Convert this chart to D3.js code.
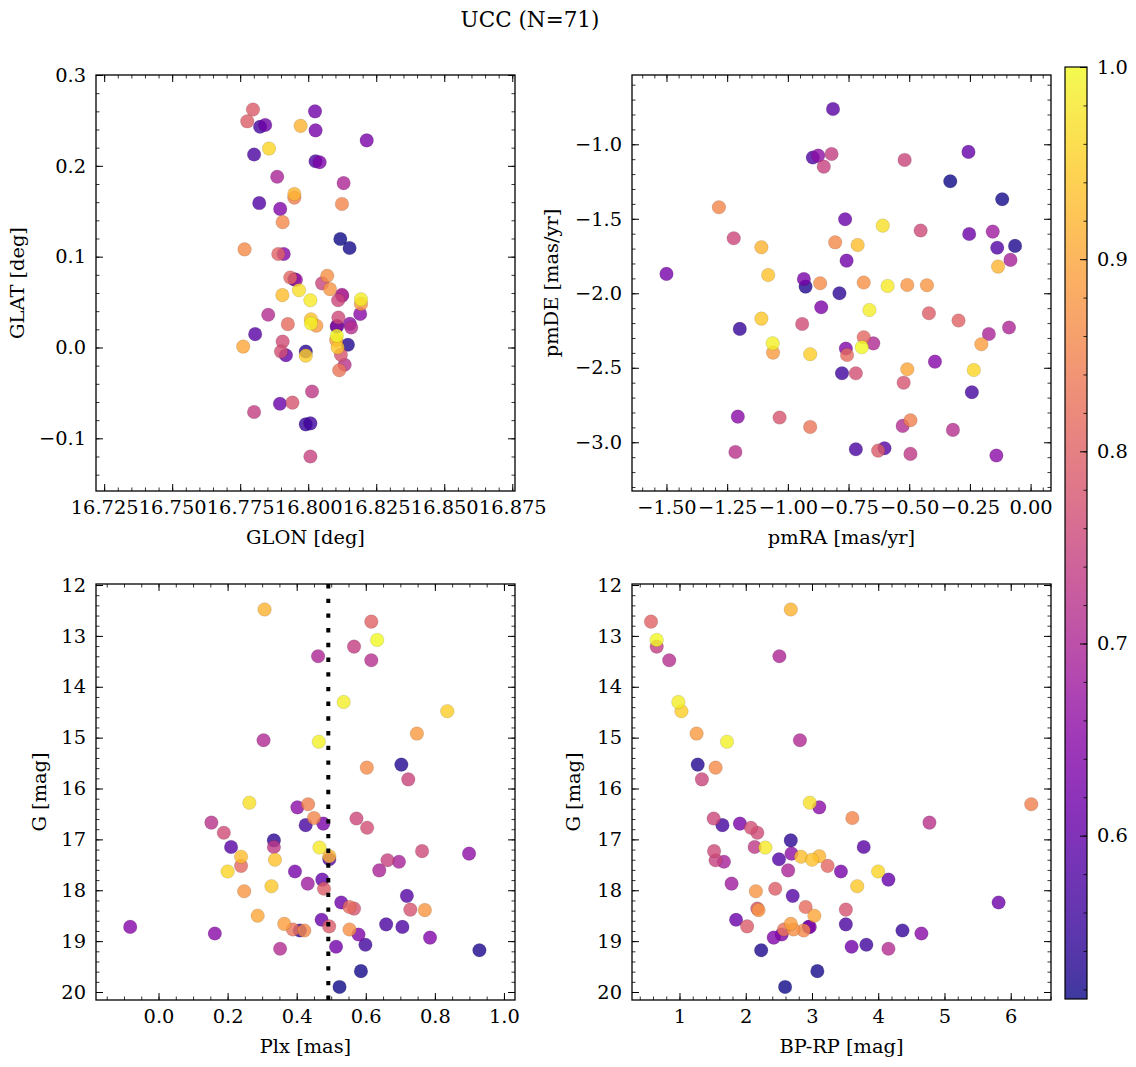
<!DOCTYPE html>
<html><head><meta charset="utf-8">
<script src="https://cdn.jsdelivr.net/npm/d3@7"></script>
<style>body{margin:0;background:#fff}</style>
</head><body><div id="c"></div>
<script>
// ---- data (one entry per star, ordered by membership probability) ----
const prob = [0.515,0.52,0.525,0.53,0.54,0.55,0.56,0.565,0.57,0.575,0.58,0.585,0.59,
  0.605,0.61,0.615,0.62,0.625,0.63,0.635,0.64,0.645,0.65,0.655,0.66,
  0.68,0.69,0.695,0.70,0.705,0.71,0.715,0.72,0.73,
  0.74,0.745,0.75,0.755,0.76,0.765,0.77,0.775,0.78,
  0.79,0.795,0.80,0.81,0.815,0.83,
  0.85,0.855,0.86,0.865,0.87,0.875,0.88,0.885,0.89,0.90,
  0.915,0.92,0.93,0.935,0.94,0.95,
  0.96,0.97,0.98,0.985,0.99,1.0];
const glon = [16.8118,16.8152,16.8105,16.8146,16.7991,16.7991,16.8008,16.7823,16.7801,16.8027,16.782,16.7949,16.7805,
  16.7918,16.7896,16.7842,16.8025,16.8027,16.8215,16.8042,16.7897,16.791,16.8191,16.8153,16.8106,
  16.7955,16.8125,16.7886,16.813,16.8124,16.7853,16.8158,16.8134,16.8014,
  16.7801,16.8008,16.8051,16.811,16.8111,16.7906,16.79,16.812,16.7942,
  16.7797,16.7776,16.789,16.7934,16.7925,16.8114,
  16.7949,16.8124,16.7906,16.7766,16.807,16.808,16.8194,16.803,16.8103,16.7761,
  16.7972,16.7949,16.7905,16.801,16.8108,16.7991,
  16.7856,16.7966,16.8008,16.8194,16.801,16.8105];
const glat = [0.1195,0.1096,0.023,0.003,-0.0044,-0.0846,-0.0835,0.243,0.2125,0.205,0.159,0.075,0.0147,
  -0.0085,-0.062,0.245,0.260,0.239,0.228,0.204,0.1526,0.103,0.0368,0.026,0.0235,
  0.0745,0.057,0.188,0.181,0.058,0.036,0.022,-0.019,-0.0485,
  -0.071,-0.120,0.0706,0.052,0.033,0.0066,-0.0044,-0.008,-0.0607,
  0.262,0.249,0.103,0.077,0.0257,-0.025,
  0.165,0.158,0.138,0.108,0.079,0.0643,0.048,0.024,0.008,0.001,
  0.244,0.169,0.0577,0.031,0.0,-0.009,
  0.219,0.063,0.052,0.053,0.0265,0.0129];
const pmra = [-0.331,-0.117,-0.064,-0.927,-0.7875,-1.198,-0.777,-0.242,-0.720,-0.897,-0.1375,-0.602,-0.814,
  -0.256,-0.764,-0.253,-0.758,-1.50,-0.934,-0.8625,-0.761,-0.394,-1.206,-0.141,-0.875,
  -0.156,-0.083,-0.172,-0.089,-0.648,-0.527,-0.320,-1.216,-0.495,
  -0.820,-0.852,-0.519,-1.223,-0.453,-0.941,-0.720,-0.523,-1.034,
  -0.628,-0.419,-0.297,-0.6875,-0.756,-0.908,
  -0.495,-1.284,-0.805,-0.867,-0.6875,-0.508,-0.427,-1.061,-0.203,-0.508,
  -1.109,-0.134,-0.7125,-1.081,-1.109,-0.908,
  -0.234,-0.609,-0.589,-0.664,-1.0625,-0.695];
const pmde = [-1.248,-1.369,-1.682,-1.955,-2.0,-2.239,-2.537,-2.664,-3.047,-1.089,-1.694,-3.040,-0.763,
  -1.051,-1.503,-1.602,-1.781,-1.870,-1.904,-2.094,-2.371,-2.459,-2.828,-3.089,-1.076,
  -1.586,-1.776,-2.273,-2.230,-2.336,-2.890,-2.917,-3.065,-3.078,
  -1.065,-1.150,-1.105,-1.631,-1.579,-2.206,-2.537,-2.600,-2.834,
  -3.056,-2.134,-2.183,-2.295,-2.414,-2.897,
  -2.852,-1.423,-1.658,-1.933,-1.928,-1.944,-1.946,-2.398,-2.342,-2.510,
  -1.691,-1.821,-1.676,-1.877,-2.170,-2.409,
  -2.515,-1.546,-1.951,-2.112,-2.336,-2.362];
const plx = [0.524,0.586,0.929,0.703,0.334,0.409,0.599,0.426,0.659,0.706,0.4945,0.719,0.210,
  0.474,0.472,0.529,0.514,0.395,0.477,0.579,0.786,-0.082,0.163,0.402,0.899,
  0.432,0.696,0.639,0.462,0.304,0.352,0.616,0.153,0.334,
  0.566,0.663,0.723,0.573,0.763,0.189,0.604,0.729,0.566,
  0.494,0.479,0.616,0.239,0.553,0.389,
  0.433,0.450,0.422,0.603,0.553,0.248,0.771,0.748,0.364,0.287,
  0.307,0.4945,0.239,0.337,0.327,0.836,
  0.200,0.263,0.466,0.536,0.464,0.633];
const gmag = [19.90,19.59,19.18,15.53,17.02,18.79,19.07,16.72,18.67,18.72,17.39,18.11,17.15,
  17.79,18.58,18.24,19.11,17.63,16.69,18.87,18.93,18.72,18.85,16.37,17.28,
  17.87,17.44,17.61,13.40,15.05,19.15,13.48,16.67,17.15,
  13.21,17.41,15.82,16.59,17.23,16.87,16.77,18.38,18.36,
  18.71,17.97,12.72,17.52,18.33,18.77,
  16.31,16.58,18.79,15.59,18.77,18.02,18.39,14.92,18.66,18.50,
  12.48,17.33,17.34,17.40,17.92,14.48,
  17.63,16.28,17.16,14.30,15.08,13.08];
const bprp = [2.594,3.081,2.233,1.275,2.680,4.366,3.821,1.648,3.511,2.95,2.502,2.709,3.781,
  4.154,1.854,5.817,3.598,3.437,1.912,2.542,2.422,2.967,4.652,3.110,2.691,
  1.786,1.671,2.640,2.508,2.818,4.154,0.845,4.773,2.135,
  0.656,1.545,1.338,1.516,1.522,2.175,2.078,3.511,2.175,
  2.021,2.445,0.570,3.236,2.904,2.577,
  6.310,3.609,2.875,1.545,2.72,2.153,2.193,1.258,2.680,3.036,
  2.680,3.110,2.835,3.001,3.683,1.029,
  3.999,2.967,2.296,0.983,1.717,0.656];
const plxLine = 0.4915;
const titleText = "UCC (N=71)";
const cbTicks = [0.6,0.7,0.8,0.9,1.0];

// ---- drawing ----
const W=1136,H=1067, FONT="'DejaVu Serif', serif", FS=19.4;
const svg=d3.select("#c").append("svg").attr("width",W).attr("height",H);
const cmin=d3.min(prob), cmax=d3.max(prob);
const cnorm=d3.scaleLinear().domain([cmin,cmax]).range([0,1]);
const color=v=>d3.interpolatePlasma(cnorm(v));
const order=d3.range(prob.length).sort((a,b)=>prob[a]-prob[b]);

function ticksIn(d,step){
  const lo=Math.min(d[0],d[1]), hi=Math.max(d[0],d[1]); const out=[];
  for(let k=Math.ceil(lo/step-1e-9); k*step<=hi+1e-9; k++) out.push(+(k*step).toFixed(10));
  return out;
}
function axis(gen, scale, vals, size, fmt, tr, pad, sw){
  const a=svg.append("g").attr("transform",tr)
    .call(gen(scale).tickValues(vals).tickSize(size).tickPadding(pad).tickFormat(fmt));
  a.select(".domain").remove();
  a.attr("font-family",FONT).attr("font-size",FS);
  a.selectAll("line").attr("stroke","#000").attr("stroke-width",sw);
  a.selectAll("text").attr("fill","#000");
  return a;
}

const panels=[
 {x0:96,x1:515,y0:75,y1:491, xd:[16.722,16.876], yd:[-0.158,0.3], xs:glon, ys:glat,
  xM:0.025,xm:0.005,yM:0.1,ym:0.02, xf:d3.format(".3f"), yf:d3.format(".1f"),
  xl:"GLON [deg]", yl:"GLAT [deg]", ylx:24},
 {x0:632,x1:1051,y0:75,y1:491, xd:[-1.642,0.084], yd:[-3.327,-0.535], xs:pmra, ys:pmde,
  xM:0.25,xm:0.05,yM:0.5,ym:0.1, xf:d3.format(".2f"), yf:d3.format(".1f"),
  xl:"pmRA [mas/yr]", yl:"pmDE [mas/yr]", ylx:558},
 {x0:96,x1:515,y0:584,y1:1000, xd:[-0.181,1.032], yd:[20.157,11.98], xs:plx, ys:gmag,
  xM:0.2,xm:0.05,yM:1,ym:0.2, xf:d3.format(".1f"), yf:d3.format("d"),
  xl:"Plx [mas]", yl:"G [mag]", ylx:45.5, vline:plxLine},
 {x0:632,x1:1051,y0:584,y1:1000, xd:[0.283,6.608], yd:[20.157,11.98], xs:bprp, ys:gmag,
  xM:1,xm:0.2,yM:1,ym:0.2, xf:d3.format("d"), yf:d3.format("d"),
  xl:"BP-RP [mag]", yl:"G [mag]", ylx:580}
];

panels.forEach((p,pi)=>{
  const x=d3.scaleLinear().domain(p.xd).range([p.x0,p.x1]);
  const y=d3.scaleLinear().domain(p.yd).range([p.y1,p.y0]);
  const cid="clip"+pi;
  svg.append("clipPath").attr("id",cid).append("rect")
    .attr("x",p.x0).attr("y",p.y0).attr("width",p.x1-p.x0).attr("height",p.y1-p.y0);
  const g=svg.append("g").attr("clip-path",`url(#${cid})`);
  g.selectAll("circle").data(order).join("circle")
    .attr("cx",i=>x(p.xs[i])).attr("cy",i=>y(p.ys[i])).attr("r",6.8)
    .attr("fill",i=>color(prob[i])).attr("fill-opacity",0.8)
    .attr("stroke","#000").attr("stroke-opacity",0.22).attr("stroke-width",0.5);
  if(p.vline!=null){
    g.append("line").attr("x1",x(p.vline)).attr("x2",x(p.vline)).attr("y1",p.y1).attr("y2",p.y0)
      .attr("stroke","#000").attr("stroke-width",4).attr("stroke-dasharray","4.4,10.3");
  }
  const xM=ticksIn(p.xd,p.xM), xm=ticksIn(p.xd,p.xm), yM=ticksIn(p.yd,p.yM), ym=ticksIn(p.yd,p.ym);
  axis(d3.axisBottom,x,xM,-7,p.xf,`translate(0,${p.y1})`,9.5,1);
  axis(d3.axisBottom,x,xm,-3.5,"",`translate(0,${p.y1})`,3,0.8);
  axis(d3.axisTop,x,xM,-7,"",`translate(0,${p.y0})`,3,1);
  axis(d3.axisTop,x,xm,-3.5,"",`translate(0,${p.y0})`,3,0.8);
  axis(d3.axisLeft,y,yM,-7,p.yf,`translate(${p.x0},0)`,10,1);
  axis(d3.axisLeft,y,ym,-3.5,"",`translate(${p.x0},0)`,3,0.8);
  axis(d3.axisRight,y,yM,-7,"",`translate(${p.x1},0)`,3,1);
  axis(d3.axisRight,y,ym,-3.5,"",`translate(${p.x1},0)`,3,0.8);
  svg.append("rect").attr("x",p.x0).attr("y",p.y0).attr("width",p.x1-p.x0).attr("height",p.y1-p.y0)
    .attr("fill","none").attr("stroke","#000").attr("stroke-width",1.3);
  svg.append("text").attr("x",(p.x0+p.x1)/2).attr("y",p.y1+53).attr("text-anchor","middle")
    .attr("font-family",FONT).attr("font-size",FS).text(p.xl);
  svg.append("text").attr("transform",`translate(${p.ylx},${(p.y0+p.y1)/2}) rotate(-90)`)
    .attr("text-anchor","middle").attr("font-family",FONT).attr("font-size",FS).text(p.yl);
});

// colorbar
const cb={x:1065,y0:67,y1:999,w:22};
const grad=svg.append("defs").append("linearGradient").attr("id","cbg")
  .attr("x1",0).attr("y1",1).attr("x2",0).attr("y2",0);
d3.range(0,1.00001,0.02).forEach(t=>grad.append("stop").attr("offset",t).attr("stop-color",d3.interpolatePlasma(t)));
svg.append("rect").attr("x",cb.x).attr("y",cb.y0).attr("width",cb.w).attr("height",cb.y1-cb.y0)
  .attr("fill","url(#cbg)").attr("fill-opacity",0.8);
const cy=d3.scaleLinear().domain([cmin,cmax]).range([cb.y1,cb.y0]);
axis(d3.axisRight,cy,cbTicks,-7,d3.format(".1f"),`translate(${cb.x+cb.w},0)`,10,1);
axis(d3.axisRight,cy,ticksIn([cmin,cmax],0.02),-3.5,"",`translate(${cb.x+cb.w},0)`,3,0.8);
svg.append("rect").attr("x",cb.x).attr("y",cb.y0).attr("width",cb.w).attr("height",cb.y1-cb.y0)
  .attr("fill","none").attr("stroke","#000").attr("stroke-width",1.2);

svg.append("text").attr("x",530).attr("y",27).attr("text-anchor","middle")
  .attr("font-family",FONT).attr("font-size",21.5).text(titleText);
</script>
</body></html>
